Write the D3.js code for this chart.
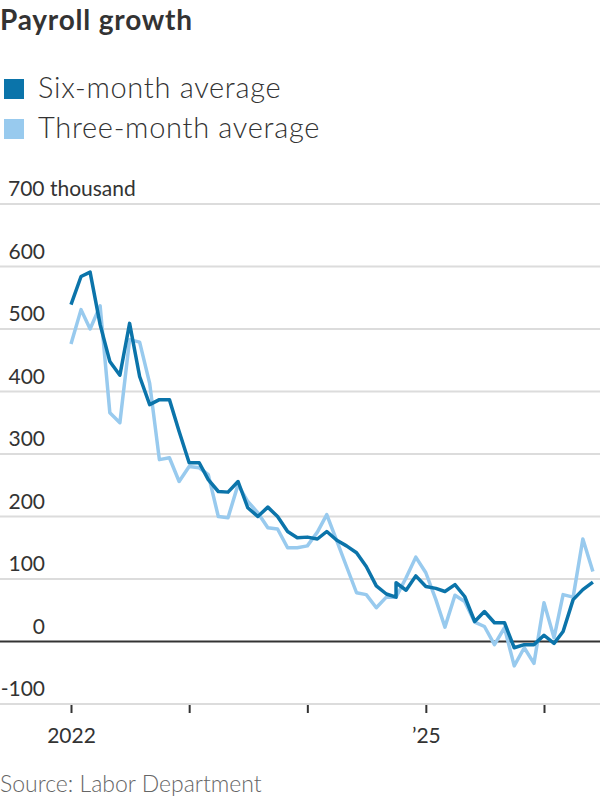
<!DOCTYPE html>
<html>
<head>
<meta charset="utf-8">
<script src="https://cdn.jsdelivr.net/npm/d3@7"></script>
<style>
  body { margin: 0; background: #fff; }
  svg { display: block; font-family: Lato, "Noto Sans", sans-serif; }
  .grid line { stroke: #dcdcdc; stroke-width: 2; }
  .zero { stroke: #333; stroke-width: 2; }
  .line { fill: none; stroke-width: 3.5; stroke-linejoin: round; }
</style>
</head>
<body>
<div id="chart"></div>
<script>
var months = ["2022-01","2022-02","2022-03","2022-04","2022-05","2022-06","2022-07","2022-08","2022-09","2022-10","2022-11","2022-12",
  "2023-01","2023-02","2023-03","2023-04","2023-05","2023-06","2023-07","2023-08","2023-09","2023-10","2023-11","2023-12",
  "2024-01","2024-02","2024-03","2024-04","2024-05","2024-06","2024-07","2024-08","2024-09","2024-10","2024-11","2024-12",
  "2025-01","2025-02","2025-03","2025-04","2025-05","2025-06","2025-07","2025-08","2025-09","2025-10","2025-11","2025-12",
  "2026-01","2026-02","2026-03","2026-04","2026-05","2026-06"];

// six-month series has a revision break in Oct 2024 (two values for that month)
var sixMonthMonths = months.slice(0, 34).concat(["2024-10"], months.slice(34));
var sixMonth = [539, 584, 591, 507, 448, 426, 509, 424, 379, 387, 387, 336,
  286, 286, 259, 240, 239, 256, 214, 200, 215, 200, 176, 166,
  167, 164, 176, 162, 153, 142, 120, 89, 76, 71, 94, 82, 105,
  88, 85, 80, 91, 72, 32, 48, 30, 30, -10, -5, -5,
  10, -3, 16, 67, 83, 95];

var threeMonth = [476, 531, 500, 537, 366, 350, 483, 479, 413, 291, 294, 256,
  280, 278, 267, 200, 198, 251, 224, 206, 182, 180, 150, 150,
  153, 175, 203, 161, 120, 78, 75, 54, 71, 71, 102, 135,
  110, 67, 23, 74, 64, 31, 24, -5, 22, -39, -10, -35,
  62, 6, 75, 71, 164, 112];

var yTicks = [-100, 0, 100, 200, 300, 400, 500, 600, 700];
var xTicks = ["2022-01", "2023-01", "2024-01", "2025-01", "2026-01"];
var xTickLabels = {"2022": "2022", "2025": "\u201925"};

var w = 600, h = 800;
var parse = d3.timeParse("%Y-%m");

var xScale = d3.scaleTime()
  .domain([parse("2022-01"), parse("2026-01")])
  .range([71, 544]);

var yScale = d3.scaleLinear()
  .domain([-100, 700])
  .range([704, 204]);

var svg = d3.select("#chart").append("svg")
  .attr("width", w)
  .attr("height", h);

// title
svg.append("text")
  .attr("x", 0).attr("y", 30)
  .attr("font-size", 28).attr("font-weight", 700)
  .attr("letter-spacing", 0.8)
  .attr("fill", "#333")
  .text("Payroll growth");

// legend
var legend = [
  {name: "Six-month average", color: "#0b74aa"},
  {name: "Three-month average", color: "#98caee"}
];
var lg = svg.selectAll(".legend").data(legend).enter().append("g")
  .attr("class", "legend")
  .attr("transform", function(d, i) { return "translate(0," + (79 + i * 40) + ")"; });
lg.append("rect")
  .attr("x", 4).attr("width", 20).attr("height", 20)
  .attr("fill", function(d) { return d.color; });
lg.append("text")
  .attr("x", 38).attr("y", 19)
  .attr("font-size", 29).attr("font-weight", 300)
  .attr("letter-spacing", 0.7)
  .attr("fill", "#333")
  .text(function(d) { return d.name; });

// gridlines
var grid = svg.append("g").attr("class", "grid");
grid.selectAll("line").data(yTicks.filter(function(d) { return d !== 0; })).enter().append("line")
  .attr("x1", 0).attr("x2", w)
  .attr("y1", function(d) { return yScale(d); })
  .attr("y2", function(d) { return yScale(d); });

// y labels
svg.append("g").selectAll("text").data(yTicks).enter().append("text")
  .attr("x", function(d) { return d === 700 ? 8 : 45; })
  .attr("y", function(d) { return yScale(d) - 8; })
  .attr("font-size", 21)
  .attr("fill", "#333")
  .attr("text-anchor", function(d) { return d === 700 ? "start" : "end"; })
  .text(function(d) { return d === 700 ? d + " thousand" : d; });

// x axis
var xAxis = d3.axisBottom(xScale)
  .tickValues(xTicks.map(parse))
  .tickSize(8)
  .tickFormat(function(d) { return xTickLabels[d.getFullYear()] || ""; });

var xg = svg.append("g")
  .attr("transform", "translate(0," + yScale(-100) + ")")
  .call(xAxis);
xg.select(".domain").remove();
xg.selectAll(".tick line").attr("stroke", "#333").attr("stroke-width", 2).attr("y1", 1).attr("y2", 9);
xg.selectAll(".tick text")
  .attr("y", 24)
  .attr("font-size", 21)
  .attr("font-family", "Lato, sans-serif")
  .attr("fill", "#333");

// zero line
svg.append("line").attr("class", "zero")
  .attr("x1", 0).attr("x2", w)
  .attr("y1", yScale(0)).attr("y2", yScale(0));

var line = d3.line()
  .x(function(d) { return xScale(d.date); })
  .y(function(d) { return yScale(d.value); });

var threeData = months.map(function(m, i) { return {date: parse(m), value: threeMonth[i]}; });
var sixData = sixMonthMonths.map(function(m, i) { return {date: parse(m), value: sixMonth[i]}; });

svg.append("path")
  .datum(threeData)
  .attr("class", "line")
  .attr("stroke", "#98caee")
  .attr("d", line);

svg.append("path")
  .datum(sixData)
  .attr("class", "line")
  .attr("stroke", "#0b74aa")
  .attr("d", line);

// source
svg.append("text")
  .attr("x", 0).attr("y", 792)
  .attr("font-size", 23).attr("font-weight", 300)
  .attr("fill", "#666")
  .text("Source: Labor Department");
</script>
</body>
</html>
